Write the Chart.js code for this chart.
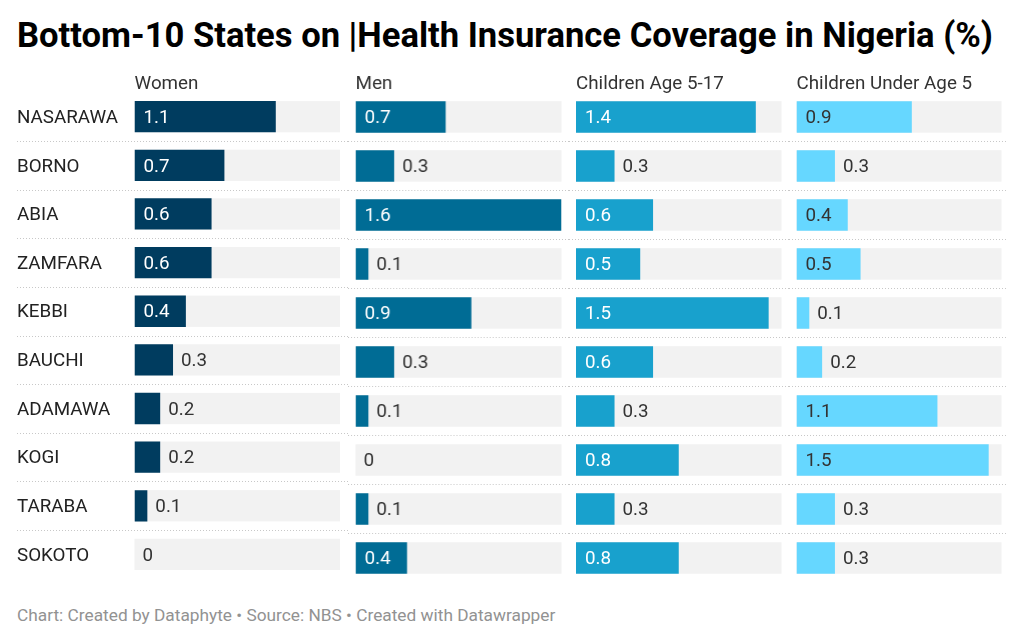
<!DOCTYPE html>
<html>
<head>
<meta charset="utf-8">
<script src="https://cdn.jsdelivr.net/npm/chart.js@4/dist/chart.umd.min.js"></script>
<style>
  html, body { margin: 0; padding: 0; background: #fff; }
  #wrap { position: relative; width: 1024px; height: 642px; overflow: hidden; font-family: Roboto, "Noto Sans", sans-serif; }
  #title { position: absolute; left: 17px; top: 18px; font-size: 34.6px; line-height: 34.6px; font-weight: 700; color: #000; white-space: nowrap; }
  #footer { position: absolute; left: 17px; top: 607px; font-size: 17.3px; line-height: 17.3px; color: #929292; white-space: nowrap; }
  canvas { position: absolute; top: 60px; }
</style>
</head>
<body>
<div id="wrap">
  <div id="title">Bottom-10 States on |Health Insurance Coverage in Nigeria (%)</div>
  <canvas id="c0"></canvas>
  <canvas id="c1"></canvas>
  <canvas id="c2"></canvas>
  <canvas id="c3"></canvas>
  <div id="footer">Chart: Created by Dataphyte • Source: NBS • Created with Datawrapper</div>
</div>
<script>
// ---- data ----
const states = ['NASARAWA','BORNO','ABIA','ZAMFARA','KEBBI','BAUCHI','ADAMAWA','KOGI','TARABA','SOKOTO'];
const panelTitles = ['Women','Men','Children Age 5-17','Children Under Age 5'];
const women = [1.1, 0.7, 0.6, 0.6, 0.4, 0.3, 0.2, 0.2, 0.1, 0];
const men = [0.7, 0.3, 1.6, 0.1, 0.9, 0.3, 0.1, 0, 0.1, 0.4];
const children517 = [1.4, 0.3, 0.6, 0.5, 1.5, 0.6, 0.3, 0.8, 0.3, 0.8];
const under5 = [0.9, 0.3, 0.4, 0.5, 0.1, 0.2, 1.1, 1.5, 0.3, 0.3];
const seriesList = [women, men, children517, under5];
const xMax = 1.6;

// ---- styling / layout ----
const colors = ['#003c5f', '#006c95', '#18a1cd', '#66d7ff'];
const insideText = ['#ffffff', '#ffffff', '#ffffff', '#333333'];
const canvasTop = 60, canvasH = 530;
const boxes = [
  {left: 0, width: 348, pl: 17, pr: 8, s0: 17, s1: 348},
  {left: 348, width: 220.5, pl: 7.5, pr: 7.5, s0: 0, s1: 220.5},
  {left: 568.5, width: 220, pl: 7, pr: 7.5, s0: 0, s1: 220},
  {left: 788.5, width: 235.5, pl: 7.5, pr: 22.5, s0: 0, s1: 218}
];
const FONT = 'Roboto, "Noto Sans", sans-serif';
const FS = 18.8;

function makePlugin(idx) {
  return {
    id: 'panel' + idx,
    beforeDatasetsDraw(chart) {
      const ctx = chart.ctx, area = chart.chartArea;
      const ys = chart.scales.y;
      const box = boxes[idx];
      ctx.save();
      ctx.strokeStyle = '#c8c8c8';
      ctx.lineWidth = 1;
      ctx.setLineDash([1, 2]);
      for (let i = 1; i < states.length; i++) {
        const y = Math.round((ys.getPixelForValue(i - 1) + ys.getPixelForValue(i)) / 2) + 0.5;
        ctx.beginPath();
        ctx.moveTo(box.s0, y);
        ctx.lineTo(box.s1, y);
        ctx.stroke();
      }
      ctx.setLineDash([]);
      ctx.fillStyle = '#f2f2f2';
      chart.getDatasetMeta(0).data.forEach(bar => {
        ctx.fillRect(area.left, bar.y - bar.height / 2, area.right - area.left, bar.height);
      });
      ctx.fillStyle = '#333';
      ctx.font = FS + 'px ' + FONT;
      ctx.textBaseline = 'alphabetic';
      ctx.textAlign = 'left';
      ctx.fillText(panelTitles[idx], area.left, 88.8 - canvasTop);
      ctx.restore();
    },
    afterDatasetsDraw(chart) {
      const ctx = chart.ctx;
      const vals = seriesList[idx];
      ctx.save();
      ctx.font = FS + 'px ' + FONT;
      ctx.textBaseline = 'middle';
      ctx.textAlign = 'left';
      chart.getDatasetMeta(0).data.forEach((bar, i) => {
        const txt = String(vals[i]);
        const w = ctx.measureText(txt).width;
        const bw = bar.x - bar.base;
        if (w + 18 <= bw) {
          ctx.fillStyle = insideText[idx];
          ctx.fillText(txt, bar.base + 9, bar.y + 1.5);
        } else {
          ctx.fillStyle = '#333';
          ctx.fillText(txt, bar.x + 8, bar.y + 1.5);
        }
      });
      ctx.restore();
    }
  };
}

Chart.defaults.font.family = FONT;

seriesList.forEach((vals, idx) => {
  const b = boxes[idx];
  const cv = document.getElementById('c' + idx);
  cv.style.left = b.left + 'px';
  cv.style.width = b.width + 'px';
  cv.style.height = canvasH + 'px';
  cv.width = b.width; cv.height = canvasH;
  new Chart(cv, {
    type: 'bar',
    data: {
      labels: states,
      datasets: [{
        data: vals,
        backgroundColor: colors[idx],
        borderWidth: 0,
        categoryPercentage: 1,
        barPercentage: 0.643
      }]
    },
    options: {
      indexAxis: 'y',
      responsive: false,
      animation: false,
      devicePixelRatio: 1,
      layout: { padding: { left: b.pl, right: b.pr, top: 32.4, bottom: 7.5 } },
      plugins: { legend: { display: false }, tooltip: { enabled: false }, title: { display: false } },
      scales: {
        x: { display: false, min: 0, max: xMax },
        y: {
          display: idx === 0,
          grid: { display: false },
          border: { display: false },
          ticks: {
            crossAlign: 'far',
            padding: 0,
            labelOffset: 1.5,
            color: '#222',
            font: { size: FS, family: FONT }
          },
          afterFit(scale) { if (idx === 0) scale.width = 117.5; }
        }
      }
    },
    plugins: [makePlugin(idx)]
  });
});
</script>
</body>
</html>
